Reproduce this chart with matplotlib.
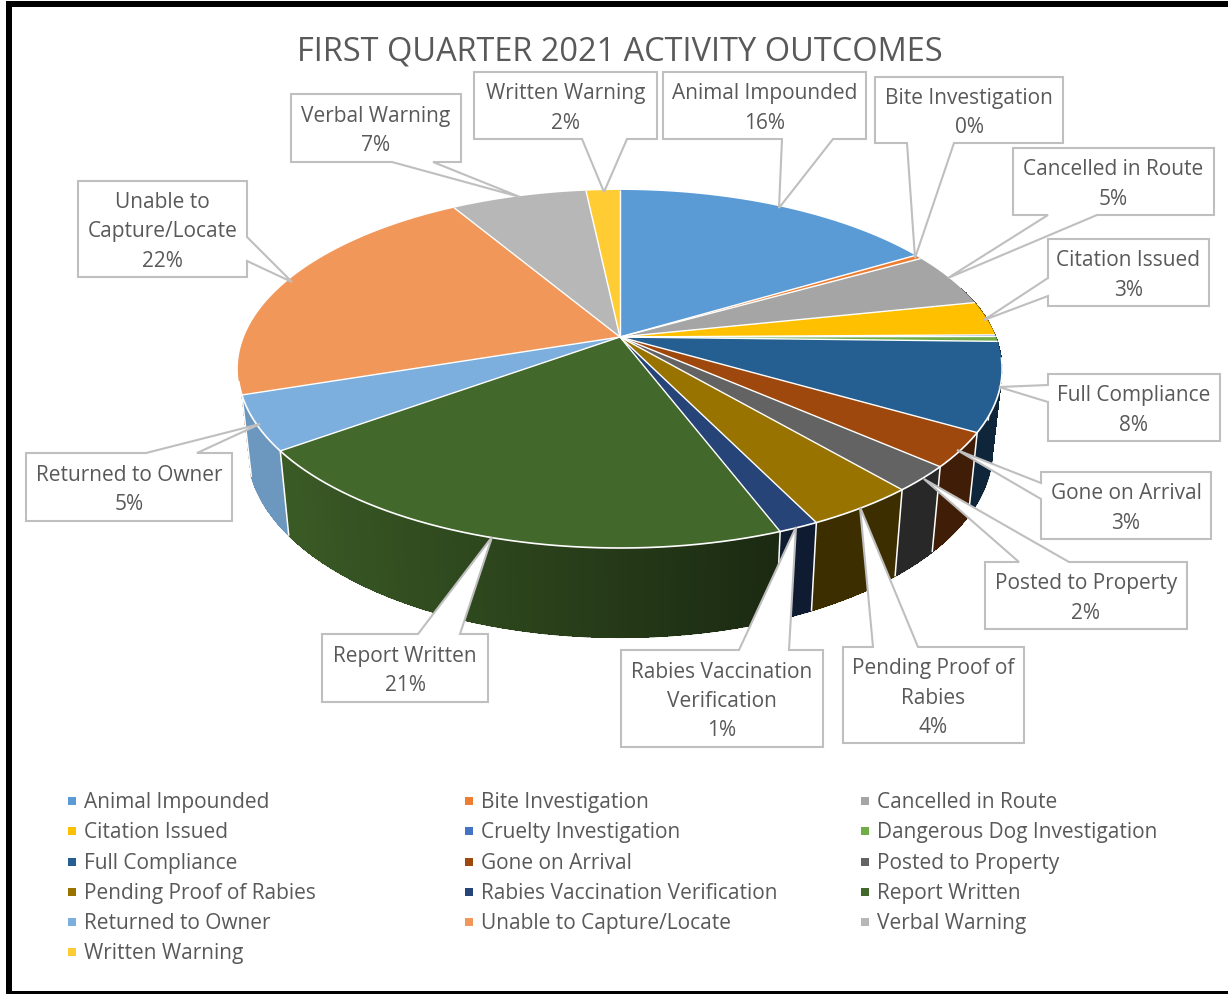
import numpy as np
import matplotlib
matplotlib.use("Agg")
import matplotlib.pyplot as plt
from matplotlib.patches import Polygon, Rectangle
from matplotlib.colors import to_rgb

title = "FIRST QUARTER 2021 ACTIVITY OUTCOMES"
categories = ["Animal Impounded", "Bite Investigation", "Cancelled in Route", "Citation Issued",
              "Cruelty Investigation", "Dangerous Dog Investigation", "Full Compliance", "Gone on Arrival",
              "Posted to Property", "Pending Proof of Rabies", "Rabies Vaccination Verification", "Report Written",
              "Returned to Owner", "Unable to Capture/Locate", "Verbal Warning", "Written Warning"]
values = [16.4, 0.39, 4.9, 3.1, 0.15, 0.45, 7.97, 3.1, 2.3, 4.0, 1.45, 20.75, 4.9, 21.6, 6.8, 1.7]
colors = ["#5B9BD5", "#ED7D31", "#A5A5A5", "#FFC000", "#4472C4", "#70AD47", "#255E91", "#9E480E",
          "#636363", "#997300", "#264478", "#43682B", "#7CAFDD", "#F1975A", "#B7B7B7", "#FFCD33"]

FONT = "Open Sans"
TXT = "#595959"
FS = 15.0
W, H = 1228, 994

fig = plt.figure(figsize=(W / 100, H / 100), dpi=100, facecolor="white")
ax = fig.add_axes([0, 0, 1, 1])
ax.set_xlim(0, W)
ax.set_ylim(H, 0)
ax.axis("off")

# frame
ax.add_patch(Rectangle((6, 1), W, H, fc="black", ec="none", zorder=0))
ax.add_patch(Rectangle((12, 7), W, 984, fc="white", ec="none", zorder=0.1))

# perspective pie geometry
CX, CY, A, B, K = 620.0, 337.0, 376.0, 173.3, 0.1787
XS, YS, OFF = 0.975, 1.05, 79.0


def top(th):
    u, v = np.sin(th), np.cos(th)
    d = 1 + K * v
    return CX + A * u / d, CY - B * v / d


def bottom(th):
    u, v = np.sin(th), np.cos(th)
    d = 1 + K * v
    return CX + XS * A * u / d, CY - YS * B * v / d + OFF


def shade(x):
    return np.interp(x, [280, 780], [0.87, 0.40])


fr = np.array(values, dtype=float)
edges = np.concatenate([[0], np.cumsum(fr)]) / fr.sum() * 2 * np.pi

# walls, painted back to front
quads = []
for i, c in enumerate(colors):
    t0, t1 = edges[i], edges[i + 1]
    n = max(2, int(np.degrees(t1 - t0) * 2) + 2)
    ts = np.linspace(t0, t1, n)
    rgb = np.array(to_rgb(c))
    for a, b in zip(ts[:-1], ts[1:]):
        m = (a + b) / 2
        limit = 0.3 if np.sin(m) > 0 else -0.31
        if np.cos(m) < limit:
            quads.append((np.cos(m), a, b, rgb))
quads.sort(key=lambda q: -q[0])
for _, a, b, rgb in quads:
    xa, ya = top(a); xb, yb = top(b)
    xc, yc = bottom(b); xd, yd = bottom(a)
    col = rgb * shade((xa + xb) / 2)
    ax.add_patch(Polygon([(xa, ya), (xb, yb), (xc, yc), (xd, yd)], closed=True,
                         fc=col, ec="none", lw=0, antialiased=False, zorder=2))
    ax.plot([xc, xd], [yc, yd], color=col, lw=0.7, zorder=2.5, solid_capstyle="round")

for t in edges[:-1]:
    if np.cos(t) < 0.0:
        xa, ya = top(t); xb, yb = bottom(t)
        ax.plot([xa, xb], [ya, yb], color="white", lw=1.1, zorder=3, solid_capstyle="butt")

# top faces
for i, c in enumerate(colors):
    t0, t1 = edges[i], edges[i + 1]
    ts = np.linspace(t0, t1, max(3, int(np.degrees(t1 - t0)) * 2 + 3))
    xs, ys = top(ts)
    pts = [(CX, CY)] + list(zip(xs, ys))
    ax.add_patch(Polygon(pts, closed=True, fc=c, ec="none", zorder=4))
for t in edges[:-1]:
    x, y = top(t)
    ax.plot([CX, x], [CY, y], color="white", lw=1.0, zorder=4.5, solid_capstyle="butt")
ts = np.linspace(np.pi / 2 + 0.12, 1.5 * np.pi - 0.25, 300)
xs, ys = top(ts)
ax.plot(xs, ys, color="white", lw=1.2, zorder=4.6)

# callouts: box (x0, y0, x1, y1), side, two base positions, tip
callouts = {
    "Animal Impounded": ((663, 72, 866, 139), "b", 782, 833, (779, 208), ["Animal Impounded"]),
    "Bite Investigation": ((875, 77, 1063, 143), "b", 907, 954, (915, 258), ["Bite Investigation"]),
    "Cancelled in Route": ((1013, 148, 1214, 215), "b", 1048, 1097, (948, 278), ["Cancelled in Route"]),
    "Citation Issued": ((1048, 239, 1209, 306), "l", 278, 296, (984, 320), ["Citation Issued"]),
    "Full Compliance": ((1048, 374, 1220, 441), "l", 385, 402, (999, 387), ["Full Compliance"]),
    "Gone on Arrival": ((1041, 472, 1211, 539), "l", 483, 499, (957, 450), ["Gone on Arrival"]),
    "Posted to Property": ((985, 562, 1187, 629), "t", 1019, 1069, (924, 479), ["Posted to Property"]),
    "Pending Proof of Rabies": ((843, 647, 1024, 743), "t", 873, 918, (860, 507), ["Pending Proof of", "Rabies"]),
    "Rabies Vaccination Verification": ((621, 650, 823, 747), "t", 739, 789, (796, 527),
                                        ["Rabies Vaccination", "Verification"]),
    "Report Written": ((322, 634, 488, 702), "t", 418, 460, (492, 537), ["Report Written"]),
    "Returned to Owner": ((26, 453, 232, 521), "t", 146, 197, (260, 424), ["Returned to Owner"]),
    "Unable to Capture/Locate": ((78, 181, 247, 277), "r", 237, 261, (292, 282), ["Unable to", "Capture/Locate"]),
    "Verbal Warning": ((291, 94, 461, 162), "b", 392, 433, (520, 197), ["Verbal Warning"]),
    "Written Warning": ((474, 72, 657, 139), "b", 582, 627, (604, 192), ["Written Warning"]),
}

LH = 29.5
for name, val in zip(categories, values):
    if name not in callouts:
        continue
    (x0, y0, x1, y1), side, p, q, tip, lines = callouts[name]
    if side == "b":
        pts = [(x0, y0), (x1, y0), (x1, y1), (q, y1), tip, (p, y1), (x0, y1)]
    elif side == "t":
        pts = [(x0, y0), (p, y0), tip, (q, y0), (x1, y0), (x1, y1), (x0, y1)]
    elif side == "l":
        pts = [(x0, y0), (x1, y0), (x1, y1), (x0, y1), (x0, q), tip, (x0, p)]
    else:
        pts = [(x0, y0), (x1, y0), (x1, p), tip, (x1, q), (x1, y1), (x0, y1)]
    ax.add_patch(Polygon(pts, closed=True, fc="white", ec="#BFBFBF", lw=1.5, zorder=6, joinstyle="miter"))
    txt = lines + [f"{round(val / fr.sum() * 100):d}%"]
    cy = (y0 + y1) / 2
    for j, s in enumerate(txt):
        ax.text((x0 + x1) / 2, cy + (j - (len(txt) - 1) / 2) * LH + 8.5, s, family=FONT, fontsize=FS,
                color=TXT, ha="center", va="baseline", zorder=7)

# title
ax.text(620, 60, title, family=FONT, fontsize=23.45, color=TXT, ha="center", va="baseline", zorder=7)

# legend
leg_x = [72, 469, 865]
leg_y = [801, 831, 862, 892, 922, 952]
for i, (name, c) in enumerate(zip(categories, colors)):
    r, col = divmod(i, 3)
    x, y = leg_x[col], leg_y[r]
    ax.add_patch(Rectangle((x - 4, y - 4), 8, 8, fc=c, ec="none", zorder=7))
    ax.text(x + 12, y + 7, name, family=FONT, fontsize=FS, color=TXT, ha="left", va="baseline", zorder=7)

fig.savefig("out.png", dpi=100, facecolor="white")
